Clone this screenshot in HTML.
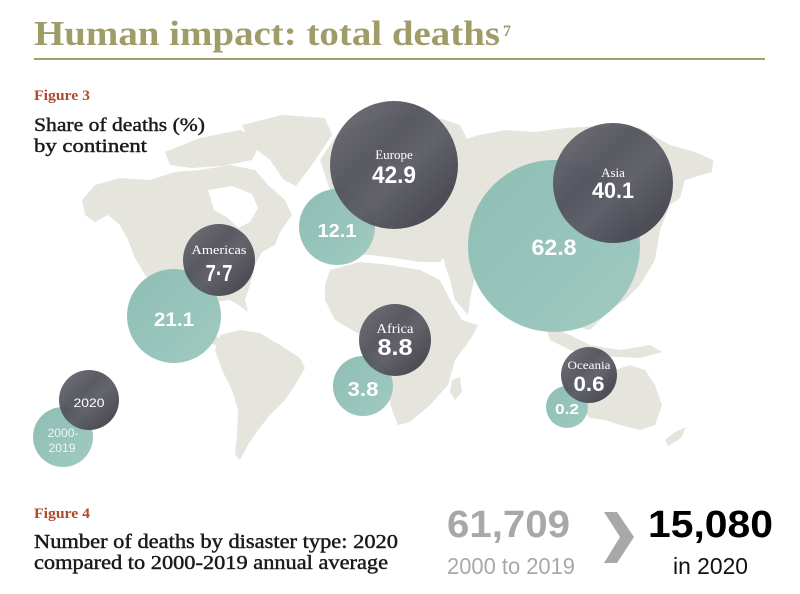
<!DOCTYPE html>
<html>
<head>
<meta charset="utf-8">
<style>
  html,body{margin:0;padding:0;background:#fff;}
  svg{display:block;}
  .serif{font-family:"Liberation Serif",serif;}
  .sans{font-family:"Liberation Sans",sans-serif;}
</style>
</head>
<body>
<svg width="800" height="594" viewBox="0 0 800 594" xmlns="http://www.w3.org/2000/svg">
  <defs>
    <linearGradient id="dk" x1="0" y1="0" x2="1" y2="1">
      <stop offset="0" stop-color="#6c6c76"/>
      <stop offset="0.38" stop-color="#52525c"/>
      <stop offset="0.55" stop-color="#5c5c66"/>
      <stop offset="0.8" stop-color="#474751"/>
      <stop offset="1" stop-color="#3e3e48"/>
    </linearGradient>
    <linearGradient id="tl" x1="0" y1="0" x2="1" y2="1">
      <stop offset="0" stop-color="#8fbeb4"/>
      <stop offset="0.5" stop-color="#96c4ba"/>
      <stop offset="1" stop-color="#a0cac1"/>
    </linearGradient>
  </defs>
  <rect width="800" height="594" fill="#fff"/>

  <!-- Title -->
  <text class="serif" x="34" y="45" font-size="35" font-weight="bold" fill="#a09c68" textLength="466" lengthAdjust="spacingAndGlyphs">Human impact: total deaths</text>
  <text class="serif" x="503" y="36" font-size="16" font-weight="bold" fill="#a09c68">7</text>
  <rect x="34" y="58" width="731" height="2" fill="#a4a06e"/>

  <!-- Map -->
  <g fill="#e5e4dd">
    <!-- North America -->
    <path d="M82,200 L95,185 L120,178 L150,180 L175,172 L200,170 L230,165 L255,170 L268,185 L285,200 L292,215 L280,232 L275,245 L262,252 L255,265 L250,285 L245,300 L248,312 L240,306 L230,300 L215,302 L205,310 L205,325 L215,335 L222,340 L232,350 L238,357 L228,352 L215,345 L200,338 L185,325 L170,305 L160,290 L145,275 L135,258 L128,240 L120,225 L108,215 L95,222 L85,215 Z"/>
    <!-- Arctic islands -->
    <path d="M165,152 L200,138 L240,130 L262,140 L252,160 L222,166 L192,168 L170,165 Z"/>
    <!-- Greenland -->
    <path d="M242,125 L282,115 L325,118 L332,135 L312,165 L296,186 L284,180 L270,160 L252,146 Z"/>
    <!-- South America -->
    <path d="M220,335 L240,330 L260,333 L280,345 L300,358 L305,368 L295,385 L285,400 L270,415 L258,430 L248,445 L240,460 L235,455 L237,435 L238,410 L232,390 L222,370 L215,350 Z"/>
    <!-- Europe -->
    <path d="M320,160 L340,130 L380,118 L430,115 L460,125 L470,145 L470,200 L460,240 L440,262 L420,262 L395,258 L370,255 L345,255 L330,240 L325,215 L330,190 Z"/>
    <!-- Africa -->
    <path d="M330,270 L360,262 L390,265 L420,270 L440,280 L450,300 L462,320 L478,325 L470,340 L455,360 L448,385 L430,405 L410,422 L398,425 L392,410 L385,385 L378,360 L370,340 L352,330 L335,320 L325,300 L325,285 Z"/>
    <path d="M452,380 L460,377 L462,392 L455,400 L450,392 Z"/>
    <!-- Asia -->
    <path d="M450,145 L475,136 L505,130 L535,132 L565,128 L600,126 L640,128 L670,145 L695,152 L713,160 L712,172 L698,176 L685,180 L680,198 L670,205 L660,230 L655,260 L640,285 L625,300 L610,310 L600,320 L590,330 L570,325 L555,320 L540,320 L525,310 L515,300 L505,305 L490,290 L475,275 L470,300 L468,315 L455,300 L450,280 L445,265 L440,240 L450,220 L452,190 L445,165 Z"/>
    <!-- Indonesia -->
    <path d="M545,325 L570,335 L590,345 L620,350 L650,345 L662,352 L640,358 L600,356 L570,350 L550,340 Z"/>
    <!-- Australia -->
    <path d="M583,395 L595,378 L615,370 L630,365 L645,370 L655,385 L662,405 L655,425 L640,430 L620,425 L605,420 L590,418 L583,410 Z"/>
    <!-- NZ -->
    <path d="M665,440 L675,432 L686,427 L681,438 L668,446 Z"/>
  </g>
  <!-- Hudson Bay -->
  <path d="M208,190 L232,186 L252,194 L258,208 L250,222 L238,228 L228,218 L214,210 Z" fill="#fff"/>

  <!-- Circles: teal (2000-2019) -->
  <g fill="url(#tl)">
    <circle cx="337" cy="227" r="38"/>
    <circle cx="554" cy="246" r="86"/>
    <circle cx="174" cy="316" r="47"/>
    <circle cx="363" cy="386" r="30"/>
    <circle cx="567" cy="407" r="21"/>
    <circle cx="63" cy="437" r="30"/>
  </g>
  <!-- Circles: dark (2020) -->
  <g fill="url(#dk)" opacity="0.95">
    <circle cx="394" cy="165" r="64"/>
    <circle cx="613" cy="183" r="60"/>
    <circle cx="219" cy="260" r="36"/>
    <circle cx="395" cy="340" r="36"/>
    <circle cx="589" cy="375" r="28"/>
    <circle cx="89" cy="400" r="30"/>
  </g>

  <!-- Circle labels -->
  <g fill="#fff" text-anchor="middle">
    <text class="serif" x="394" y="159" font-size="13">Europe</text>
    <text class="sans" x="394" y="183" font-size="24" font-weight="bold" textLength="44" lengthAdjust="spacingAndGlyphs">42.9</text>
    <text class="sans" x="337" y="237" font-size="18" font-weight="bold" textLength="39" lengthAdjust="spacingAndGlyphs">12.1</text>
    <text class="serif" x="613" y="177" font-size="13">Asia</text>
    <text class="sans" x="613" y="198" font-size="22" font-weight="bold" textLength="42" lengthAdjust="spacingAndGlyphs">40.1</text>
    <text class="sans" x="554" y="255" font-size="22" font-weight="bold" textLength="45" lengthAdjust="spacingAndGlyphs">62.8</text>
    <text class="serif" x="219" y="254" font-size="13" textLength="55" lengthAdjust="spacingAndGlyphs">Americas</text>
    <text class="sans" x="219" y="281" font-size="23" font-weight="bold" textLength="27" lengthAdjust="spacingAndGlyphs">7·7</text>
    <text class="sans" x="174" y="326" font-size="19" font-weight="bold" textLength="40" lengthAdjust="spacingAndGlyphs">21.1</text>
    <text class="serif" x="395" y="333" font-size="14" textLength="37" lengthAdjust="spacingAndGlyphs">Africa</text>
    <text class="sans" x="395" y="355" font-size="23" font-weight="bold" textLength="35" lengthAdjust="spacingAndGlyphs">8.8</text>
    <text class="sans" x="363" y="396" font-size="20" font-weight="bold" textLength="31" lengthAdjust="spacingAndGlyphs">3.8</text>
    <text class="serif" x="589" y="369" font-size="11.5" textLength="43" lengthAdjust="spacingAndGlyphs">Oceania</text>
    <text class="sans" x="589" y="391" font-size="21" font-weight="bold" textLength="31" lengthAdjust="spacingAndGlyphs">0.6</text>
    <text class="sans" x="567" y="414" font-size="15" font-weight="bold" textLength="24" lengthAdjust="spacingAndGlyphs">0.2</text>
    <text class="sans" x="89" y="407" font-size="12" textLength="31" lengthAdjust="spacingAndGlyphs">2020</text>
    <text class="sans" x="63" y="437" font-size="12" textLength="31" lengthAdjust="spacingAndGlyphs" fill="#eef6f4">2000-</text>
    <text class="sans" x="62" y="452" font-size="12" textLength="27" lengthAdjust="spacingAndGlyphs" fill="#eef6f4">2019</text>
  </g>

  <!-- Figure 3 heading -->
  <text class="serif" x="34" y="100" font-size="15" font-weight="bold" fill="#b04a2c" textLength="56" lengthAdjust="spacingAndGlyphs">Figure 3</text>
  <g fill="#1a1a1a" stroke="#1a1a1a" stroke-width="0.45">
    <text class="serif" x="34" y="131" font-size="19" textLength="171" lengthAdjust="spacingAndGlyphs">Share of deaths (%)</text>
    <text class="serif" x="34" y="152" font-size="19" textLength="113" lengthAdjust="spacingAndGlyphs">by continent</text>
  </g>

  <!-- Figure 4 -->
  <text class="serif" x="34" y="518" font-size="15" font-weight="bold" fill="#b04a2c" textLength="56" lengthAdjust="spacingAndGlyphs">Figure 4</text>
  <g fill="#1a1a1a" stroke="#1a1a1a" stroke-width="0.45">
    <text class="serif" x="34" y="548" font-size="20" textLength="364" lengthAdjust="spacingAndGlyphs">Number of deaths by disaster type: 2020</text>
    <text class="serif" x="34" y="569" font-size="20" textLength="354" lengthAdjust="spacingAndGlyphs">compared to 2000-2019 annual average</text>
  </g>

  <text class="sans" x="447" y="537" font-size="38" font-weight="bold" fill="#a8a8a8" textLength="123" lengthAdjust="spacingAndGlyphs">61,709</text>
  <text class="sans" x="447" y="574" font-size="23" fill="#a8a8a8" textLength="128" lengthAdjust="spacingAndGlyphs">2000 to 2019</text>

  <polygon points="604,512 617,512 634,537 617,563 604,563 620,537" fill="#a8a8a8"/>

  <text class="sans" x="648" y="537" font-size="38" font-weight="bold" fill="#000" textLength="125" lengthAdjust="spacingAndGlyphs">15,080</text>
  <text class="sans" x="673" y="574" font-size="23" fill="#111" textLength="75" lengthAdjust="spacingAndGlyphs">in 2020</text>
</svg>
</body>
</html>
